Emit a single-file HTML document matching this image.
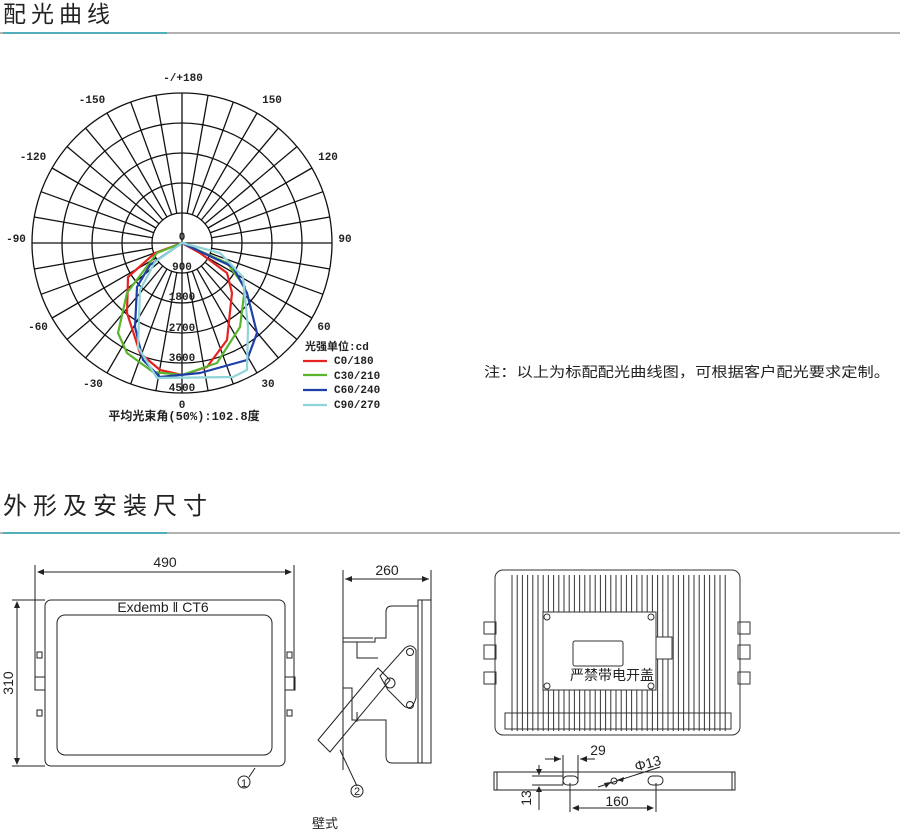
<!DOCTYPE html>
<html><head><meta charset="utf-8"><style>
body{margin:0;background:#fff;}
svg{display:block;font-family:"Liberation Sans","Noto Sans CJK SC",sans-serif;}
.m{font-family:"Liberation Mono","Noto Sans CJK SC",monospace;font-size:11px;font-weight:bold;fill:#222}
</style></head><body>
<svg id="s" width="900" height="831" viewBox="0 0 900 831" xmlns="http://www.w3.org/2000/svg">
<rect width="900" height="831" fill="#fff"/>
<text x="3" y="22" font-size="23" fill="#222" letter-spacing="5" font-family="Noto Sans CJK SC,sans-serif">配光曲线</text>
<line x1="0" y1="33" x2="900" y2="33" stroke="#9a9a9a" stroke-width="1.5"/>
<line x1="3" y1="33" x2="167" y2="33" stroke="#2aa3b4" stroke-width="1.5"/>
<text x="3" y="514" font-size="24" fill="#222" letter-spacing="6" font-family="Noto Sans CJK SC,sans-serif">外形及安装尺寸</text>
<line x1="0" y1="533" x2="900" y2="533" stroke="#9a9a9a" stroke-width="1.5"/>
<line x1="3" y1="533" x2="167" y2="533" stroke="#2aa3b4" stroke-width="1.5"/>

<g id="grid" stroke="#111" stroke-width="1.3" fill="none">
<circle cx="182" cy="243" r="150"/><circle cx="182" cy="243" r="120"/><circle cx="182" cy="243" r="90"/><circle cx="182" cy="243" r="60"/><circle cx="182" cy="243" r="30"/>
<line x1="32" y1="243" x2="332" y2="243"/><line x1="182" y1="93" x2="182" y2="393"/>
</g>
<g fill="none" stroke-width="2.2" stroke-linejoin="round">
<path stroke="#e52421" d="M182,243 L155,253 L128,277 L127,313 L140,353 L160,370 L182,375 L207,367 L227,340 L232,293 L227,273 L200,253 Z"/>
<path stroke="#5ab52e" d="M182,243 L157,253 L127,293 L118,333 L127,353 L153,372 L182,375 L217,363 L240,327 L245,287 L227,263 Z"/>
<path stroke="#1f3fa8" d="M182,243 L150,265 L137,287 L135,327 L143,360 L160,377 L200,373 L247,360 L257,333 L247,293 L233,267 Z"/>
<path stroke="#8fd4d8" d="M182,243 L155,262 L140,290 L138,347 L157,378 L233,377 L247,370 L248,327 L243,277 L220,253 Z"/>
</g>
<g class="m" text-anchor="middle">
<text x="182" y="240">0</text><text x="182" y="270">900</text><text x="182" y="300">1800</text><text x="182" y="331">2700</text><text x="182" y="361">3600</text><text x="182" y="391">4500</text>
<text x="183" y="81">-/+180</text><text x="92" y="103">-150</text><text x="272" y="103">150</text>
<text x="33" y="160">-120</text><text x="328" y="160">120</text><text x="16" y="242">-90</text><text x="345" y="242">90</text>
<text x="38" y="330">-60</text><text x="324" y="330">60</text><text x="93" y="387">-30</text><text x="268" y="387">30</text><text x="182" y="408">0</text>
<text x="184" y="420" font-size="12">平均光束角(50%):102.8度</text>
</g>
<g class="m" font-size="10">
<text x="305" y="350">光强单位:cd</text>
<text x="334" y="364">C0/180</text><text x="334" y="379">C30/210</text><text x="334" y="393">C60/240</text><text x="334" y="408">C90/270</text>
</g>
<g stroke-width="2.2"><line x1="303" y1="361" x2="327" y2="361" stroke="#e52421"/><line x1="303" y1="375" x2="327" y2="375" stroke="#5ab52e"/><line x1="303" y1="390" x2="327" y2="390" stroke="#1f3fa8"/><line x1="303" y1="405" x2="327" y2="405" stroke="#8fd4d8"/></g>
<text x="484" y="377" font-size="14" fill="#222" textLength="406" lengthAdjust="spacingAndGlyphs">注：以上为标配配光曲线图，可根据客户配光要求定制。</text>

<g stroke="#222" stroke-width="1" fill="none">
<line x1="35" y1="565" x2="35" y2="690"/><line x1="294" y1="565" x2="294" y2="690"/>
<line x1="38" y1="572" x2="291" y2="572"/>
<line x1="12" y1="600" x2="45" y2="600"/><line x1="12" y1="766" x2="45" y2="766"/>
<line x1="17" y1="603" x2="17" y2="763"/>
<rect x="45" y="600" width="240" height="166" rx="6"/>
<rect x="57" y="615" width="215" height="140" rx="8"/>
<rect x="37" y="652" width="5" height="6"/><rect x="35" y="677" width="10" height="13"/><rect x="37" y="710" width="5" height="6"/>
<rect x="287" y="652" width="5" height="6"/><rect x="285" y="677" width="10" height="13"/><rect x="287" y="710" width="5" height="6"/>
<path d="M255,768 L249,777"/><circle cx="244" cy="782" r="6"/>
</g>
<g fill="#222"><path d="M37,572 l7,-3 v6z M292,572 l-7,-3 v6z M17,601 l-3,7 h6z M17,765 l-3,-7 h6z"/></g>
<text x="165" y="567" font-size="14" text-anchor="middle" fill="#222">490</text>
<text x="163" y="612" font-size="14" text-anchor="middle" fill="#222">Exdemb ‖ CT6</text>
<text x="13" y="683" font-size="14" text-anchor="middle" fill="#222" transform="rotate(-90 13 683)">310</text>
<text x="244" y="787" font-size="11" text-anchor="middle" fill="#222">1</text>

<g stroke="#222" stroke-width="1" fill="none">
<line x1="343" y1="570" x2="343" y2="770"/><line x1="431" y1="570" x2="431" y2="600"/>
<line x1="345" y1="579" x2="429" y2="579"/>
<rect x="418" y="600" width="13" height="163"/><line x1="422" y1="600" x2="422" y2="763"/>
<path d="M418,606 H392 Q386,606 386,612 V638 H375 V642 H343 V688 L352,688 L352,720 H386 V756 Q386,763 392,763 H418"/>
<path d="M343,638 H373 M357,642 V658 H378 M357,712 V722"/>
<path d="M318,740 L330,752 L390,680 L378,668 Z"/>
<path d="M380,676 L405,648 Q412,643 416,650 L416,698 Q412,712 404,706 L388,690 Z"/>
<circle cx="390" cy="683" r="5"/><circle cx="410" cy="652" r="3.5"/><circle cx="410" cy="705" r="3.5"/>
<path d="M340,750 L357,786"/><circle cx="357" cy="791" r="6"/>
</g>
<g fill="#222"><path d="M345,579 l7,-3 v6z M429,579 l-7,-3 v6z"/></g>
<text x="387" y="575" font-size="14" text-anchor="middle" fill="#222">260</text>
<text x="357" y="795" font-size="11" text-anchor="middle" fill="#222">2</text>
<text x="325" y="828" font-size="13" text-anchor="middle" fill="#222" font-family="Noto Sans CJK SC,sans-serif">壁式</text>

<g stroke="#333" stroke-width="1" fill="none">
<rect x="495" y="570" width="245" height="165" rx="8"/>
<rect x="505" y="713" width="226" height="16"/>
<g id="fins"></g>
<rect x="543" y="612" width="113" height="78" fill="#fff"/>
<rect x="573" y="641" width="50" height="25" rx="2"/>
<rect x="656" y="637" width="16" height="22" fill="#fff"/>
<rect x="484" y="622" width="12" height="12"/><rect x="484" y="645" width="12" height="14"/><rect x="484" y="672" width="12" height="12"/>
<rect x="738" y="622" width="12" height="12"/><rect x="738" y="645" width="12" height="14"/><rect x="738" y="672" width="12" height="12"/>
<circle cx="547" cy="617" r="3"/><circle cx="651" cy="617" r="3"/><circle cx="547" cy="686" r="3"/><circle cx="651" cy="686" r="3"/>
</g>
<text x="612" y="680" font-size="14" text-anchor="middle" fill="#222" font-family="Noto Sans CJK SC,sans-serif">严禁带电开盖</text>

<g stroke="#222" stroke-width="1" fill="none">
<rect x="494" y="772" width="241" height="18"/><line x1="497" y1="772" x2="497" y2="790"/><line x1="732" y1="772" x2="732" y2="790"/>
<rect x="563" y="776" width="15" height="9" rx="4.5"/><rect x="648" y="776" width="15" height="9" rx="4.5"/>
<circle cx="614" cy="781" r="3"/>
<line x1="563" y1="755" x2="563" y2="785"/><line x1="578" y1="755" x2="578" y2="782"/>
<line x1="545" y1="759" x2="561" y2="759"/><line x1="580" y1="759" x2="595" y2="759"/>
<line x1="532" y1="776" x2="563" y2="776"/><line x1="532" y1="785" x2="563" y2="785"/>
<line x1="539" y1="765" x2="539" y2="775"/><line x1="539" y1="787" x2="539" y2="810"/>
<line x1="570" y1="783" x2="570" y2="812"/><line x1="656" y1="783" x2="656" y2="812"/>
<line x1="574" y1="808" x2="652" y2="808"/>
<line x1="598" y1="787" x2="660" y2="767"/>
</g>
<g fill="#222"><path d="M561,759 l-7,-3 v6z M580,759 l7,-3 v6z M539,775 l-3,-6 h6z M539,786 l-3,6 h6z M572,808 l7,-3 v6z M654,808 l-7,-3 v6z M611,782 l-7,1 2,5z M617,780 l7,-3 -1,5z"/></g>
<text x="598" y="755" font-size="14" text-anchor="middle" fill="#222">29</text>
<text x="649" y="768" font-size="14" text-anchor="middle" fill="#222" transform="rotate(-15 649 768)">Φ13</text>
<text x="531" y="798" font-size="14" text-anchor="middle" fill="#222" transform="rotate(-90 531 798)">13</text>
<text x="617" y="806" font-size="14" text-anchor="middle" fill="#222">160</text>
</svg>
<script>
var NS="http://www.w3.org/2000/svg",g=document.getElementById("grid");
for(var a=0;a<360;a+=10){if(a%90==0)continue;var r=a*Math.PI/180,c=Math.cos(r),s=Math.sin(r);
var l=document.createElementNS(NS,"line");l.setAttribute("x1",182+30*c);l.setAttribute("y1",243+30*s);l.setAttribute("x2",182+150*c);l.setAttribute("y2",243+150*s);g.appendChild(l);}
var f=document.getElementById("fins");
for(var x=512;x<=726;x+=5.2){var l=document.createElementNS(NS,"line");l.setAttribute("x1",x);l.setAttribute("y1",575);l.setAttribute("x2",x);l.setAttribute("y2",731);f.appendChild(l);}
</script>
</body></html>
